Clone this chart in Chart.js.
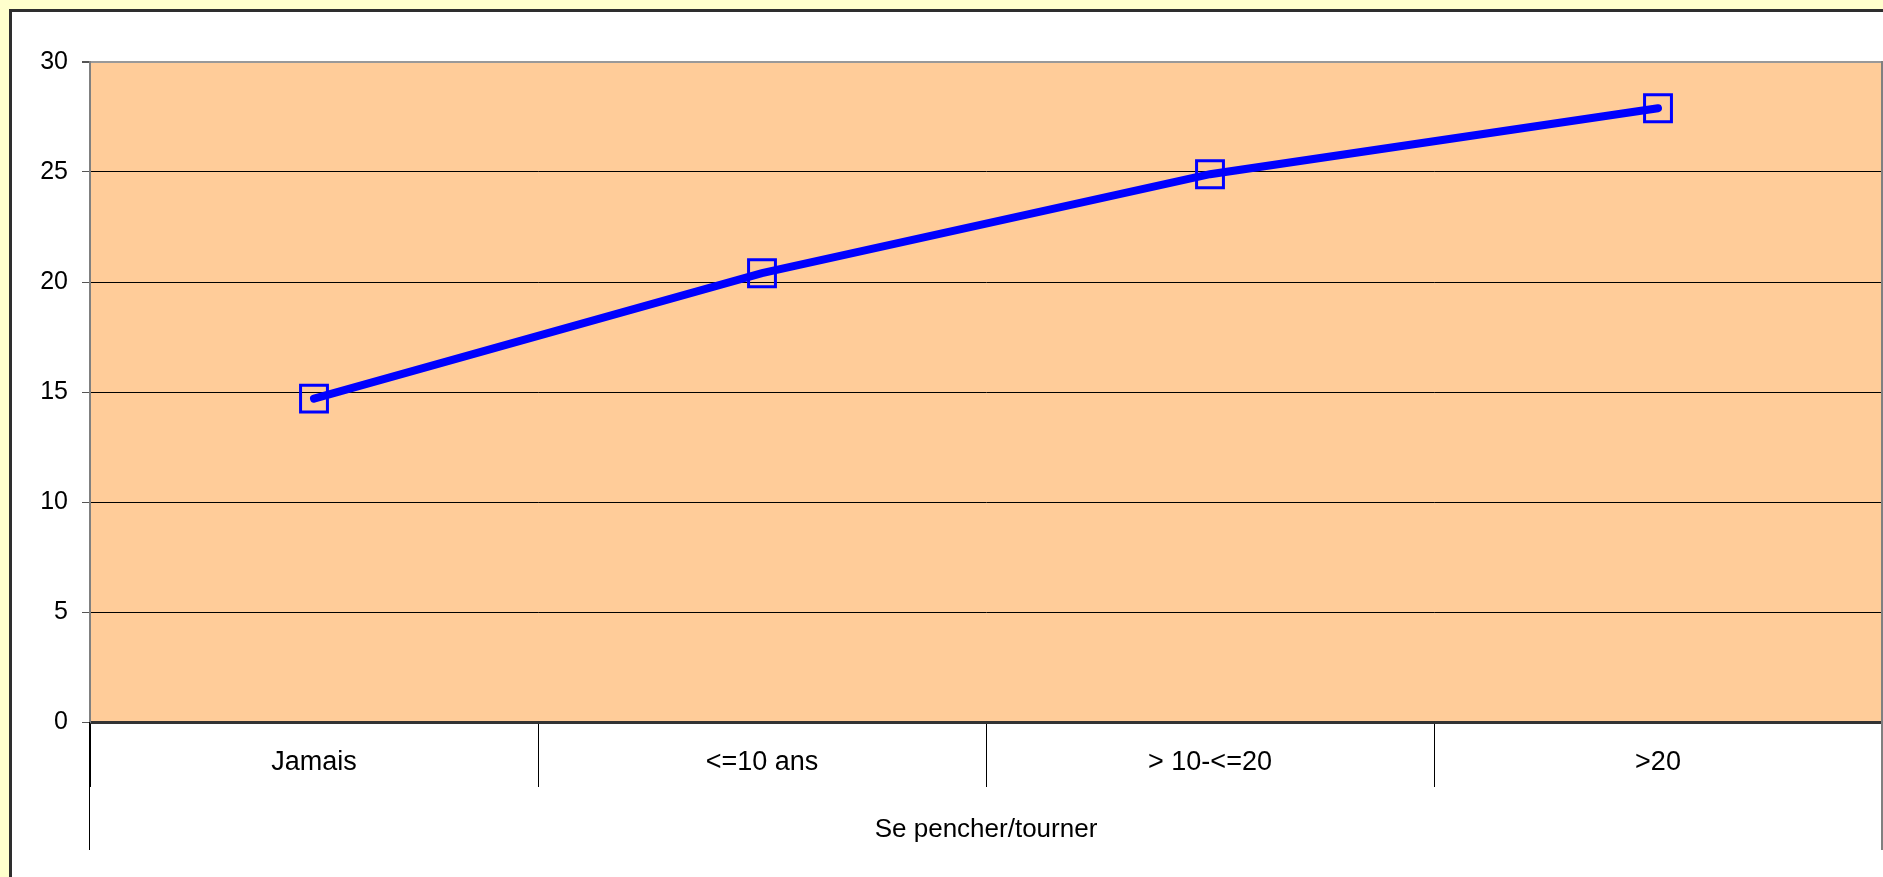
<!DOCTYPE html>
<html>
<head>
<meta charset="utf-8">
<title>Se pencher/tourner</title>
<script src="https://cdn.jsdelivr.net/npm/chart.js@4.4.0/dist/chart.umd.min.js"></script>
<style>
  body { margin: 0; background: #FFFFCC; overflow: hidden; }
  #panel {
    position: absolute; left: 9px; top: 9px;
    width: 1900px; height: 900px;
    background: #fff; border: 3px solid #2e2e2e;
  }
  #weatherChart { position: absolute; left: 0; top: 0; }
</style>
</head>
<body>
<div id="panel"></div>
<canvas id="weatherChart" width="1883" height="877"></canvas>
<script>
// data
const categories = ['Jamais', '<=10 ans', '> 10-<=20', '>20'];
const values = [14.7, 20.4, 24.9, 27.9];
const groupLabel = 'Se pencher/tourner';
const yTicks = [0, 5, 10, 15, 20, 25, 30];

const fontFamily = "'Liberation Sans', Arial, sans-serif";
Chart.defaults.color = '#000';
Chart.defaults.font.family = fontFamily;

// peach plot background + borders / long dividers of the category axis
const plotFrame = {
    id: 'plotFrame',
    beforeDraw(chart) {
        const a = chart.chartArea;
        const ctx = chart.ctx;
        ctx.save();
        ctx.fillStyle = '#FFCC99';
        ctx.fillRect(a.left, a.top, a.right - a.left, a.bottom - a.top);
        ctx.restore();
    },
    afterDraw(chart) {
        const a = chart.chartArea;
        const ctx = chart.ctx;
        ctx.save();
        // right border of plot area, continued under the axis
        ctx.strokeStyle = '#808080';
        ctx.lineWidth = 2;
        ctx.beginPath();
        ctx.moveTo(a.right, a.top - 1);
        ctx.lineTo(a.right, 850);
        ctx.stroke();
        // left divider continued under the axis
        ctx.strokeStyle = '#000';
        ctx.lineWidth = 1;
        ctx.beginPath();
        ctx.moveTo(a.left - 0.5, a.bottom);
        ctx.lineTo(a.left - 0.5, 850);
        ctx.stroke();
        ctx.restore();
    }
};

const ctx = document.getElementById('weatherChart').getContext('2d');
const chart = new Chart(ctx, {
    type: 'line',
    data: {
        labels: categories,
        datasets: [{
            data: values,
            borderColor: '#0000FF',
            borderWidth: 8,
            borderCapStyle: 'round',
            tension: 0,
            pointStyle: 'rect',
            pointRadius: 19,
            pointBorderWidth: 3,
            pointBorderColor: '#0000FF',
            pointBackgroundColor: 'rgba(0,0,0,0)'
        }]
    },
    options: {
        responsive: false,
        animation: false,
        events: [],
        layout: { autoPadding: false, padding: { top: 62, left: 0, right: 1, bottom: 0 } },
        plugins: {
            legend: { display: false },
            tooltip: { enabled: false }
        },
        scales: {
            x: {
                type: 'category',
                offset: true,
                grid: {
                    offset: true,
                    drawOnChartArea: false,
                    drawTicks: true,
                    tickLength: 65,
                    tickColor: '#000',
                    lineWidth: 1
                },
                border: { color: '#333', width: 3 },
                ticks: {
                    font: { size: 27, family: fontFamily },
                    padding: -41,
                    maxRotation: 0,
                    autoSkip: false
                },
                title: {
                    display: true,
                    text: groupLabel,
                    font: { size: 26, family: fontFamily },
                    padding: { top: 0, bottom: 32 }
                },
                afterFit(scale) { scale.height = 155; }
            },
            y: {
                min: 0,
                max: 30,
                afterBuildTicks(scale) {
                    scale.ticks = yTicks.map(v => ({ value: v }));
                },
                grid: {
                    color: c => (c.tick && c.tick.value === 30) ? '#999' : '#000',
                    lineWidth: c => (c.tick && c.tick.value === 30) ? 2 : 1,
                    tickLength: 8,
                    tickColor: '#555'
                },
                border: { color: '#808080', width: 2 },
                ticks: {
                    font: { size: 25, family: fontFamily },
                    padding: 14
                },
                afterFit(scale) { scale.width = 90; }
            }
        }
    },
    plugins: [plotFrame]
});
</script>
</body>
</html>
